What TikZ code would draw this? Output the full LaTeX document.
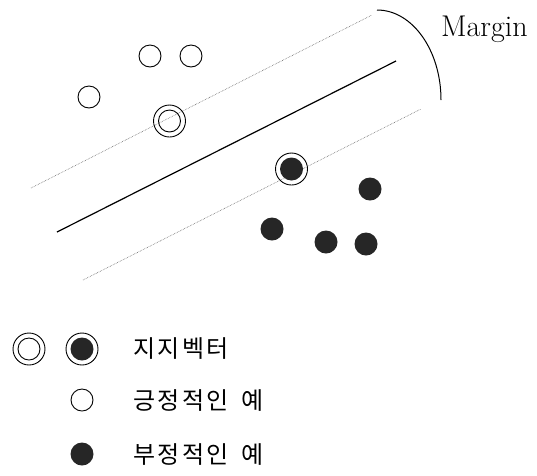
\documentclass[tikz,border=0pt]{standalone}
\usepackage{fontspec}
\newfontfamily\kr[LetterSpace=10]{Noto Sans CJK KR}
\begin{document}
\begin{tikzpicture}[x=1pt,y=-1pt,
  posdot/.style={circle,draw,line width=0.9pt,minimum size=22pt,inner sep=0pt},
  negdot/.style={circle,fill=black!85,minimum size=23pt,inner sep=0pt},
  svring/.style={circle,draw,line width=0.9pt,minimum size=32pt,inner sep=0pt},
  marginline/.style={black!60,line width=0.6pt,densely dotted},
  hyperplane/.style={line width=1.2pt},
  legendtext/.style={anchor=west,inner sep=0pt,font=\kr\fontsize{24}{27}\selectfont}]
\useasboundingbox (0,0) rectangle (537,475);

% separating hyperplane and the two margin boundaries
\coordinate (u1) at (31,188);  \coordinate (u2) at (372,15);
\coordinate (h1) at (57,232);  \coordinate (h2) at (396,61);
\coordinate (l1) at (83,280);  \coordinate (l2) at (421,109);
\draw[marginline] (u1) -- (u2);
\draw[hyperplane] (h1) -- (h2);
\draw[marginline] (l1) -- (l2);

% margin bracket
\coordinate (m1) at (377,10);
\draw[line width=1pt] (m1) arc[start angle=-90,end angle=0,x radius=64,y radius=90] coordinate (m2);
\node[anchor=west,inner sep=0pt,font=\fontsize{30}{33}\selectfont] (mtext) at (441,29) {Margin};

% positive examples
\node[posdot] (p1) at (150,56) {};
\node[posdot] (p2) at (191,56) {};
\node[posdot] (p3) at (89,97) {};
\node[svring] (sp) at (169.5,121) {};
\node[posdot] (spin) at (169.5,121) {};

% negative examples
\node[svring] (sn) at (291.5,169) {};
\node[negdot] (snin) at (291.5,169) {};
\node[negdot] (n1) at (370,189) {};
\node[negdot] (n2) at (272,229) {};
\node[negdot] (n3) at (326,242) {};
\node[negdot] (n4) at (366,244) {};

% legend
\node[svring] (lg1) at (29,349) {};
\node[posdot] (lg1in) at (29,349) {};
\node[svring] (lg2) at (82,349) {};
\node[negdot] (lg2in) at (82,349) {};
\node[legendtext] (t1) at (133,349) {지지벡터};
\node[posdot] (lg3) at (82,400) {};
\node[legendtext] (t2) at (133,400) {긍정적인\hspace{0.55em}예};
\node[negdot] (lg4) at (82,454) {};
\node[legendtext] (t3) at (133,454) {부정적인\hspace{0.55em}예};
\end{tikzpicture}
\end{document}
